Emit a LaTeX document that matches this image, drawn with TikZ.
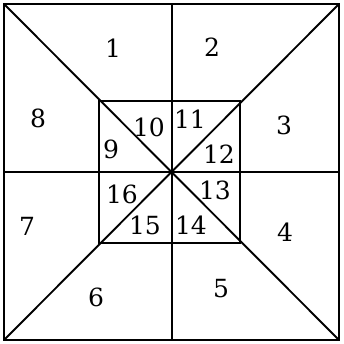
\documentclass[tikz,border=0pt]{standalone}
\usepackage{fontspec}
\newfontfamily\digitfont{DejaVu Serif}
\usepackage{tikz}
\usetikzlibrary{positioning}

\begin{document}
\begin{tikzpicture}[x=1pt, y=-1pt,
        % Line and label styles
        frame/.style={draw=black, line width=2.6pt, line join=miter},
        divider/.style={draw=black, line width=1.9pt},
        inner/.style={draw=black, line width=1.9pt},
        num/.style={font=\digitfont\fontsize{25}{25}\selectfont, text=black, inner sep=0pt}
    ]
    \useasboundingbox (0,0) rectangle (344,344);

    % --- Corners of the squares ---
    \coordinate (tl) at (4,4);
    \coordinate (tr) at (339,4);
    \coordinate (br) at (339,340);
    \coordinate (bl) at (4,340);
    \coordinate (c) at (172,172);
    \coordinate (top) at (172,4);
    \coordinate (bot) at (172,340);
    \coordinate (lft) at (4,172);
    \coordinate (rgt) at (339,172);
    \coordinate (itl) at (99,101);
    \coordinate (itr) at (240,101);
    \coordinate (ibr) at (240,243);
    \coordinate (ibl) at (99,243);

    % --- Dividing lines ---
    \draw[divider] (top) -- (bot);
    \draw[divider] (lft) -- (rgt);
    \draw[divider] (tl) -- (br);
    \draw[divider] (tr) -- (bl);

    % --- Inner square and outer frame ---
    \draw[inner] (itl) -- (itr) -- (ibr) -- (ibl) -- cycle;
    \draw[frame] (tl) -- (tr) -- (br) -- (bl) -- cycle;
    \fill (c) circle (2.2pt);

    % --- Outer numbers ---
    \node[num] (n1) at (113,48) {1};
    \node[num] (n2) at (212,47) {2};
    \node[num] (n3) at (284,125) {3};
    \node[num] (n4) at (285,232) {4};
    \node[num] (n5) at (221,289) {5};
    \node[num] (n6) at (96,297) {6};
    \node[num] (n7) at (27,226) {7};
    \node[num] (n8) at (38,118) {8};

    % --- Inner numbers ---
    \node[num] (n9) at (111,149) {9};
    \node[num] (n10) at (149,127) {10};
    \node[num] (n11) at (190,119) {11};
    \node[num] (n12) at (219,154) {12};
    \node[num] (n13) at (215,190) {13};
    \node[num] (n14) at (191,225) {14};
    \node[num] (n15) at (145,225) {15};
    \node[num] (n16) at (122,194) {16};
\end{tikzpicture}
\end{document}
